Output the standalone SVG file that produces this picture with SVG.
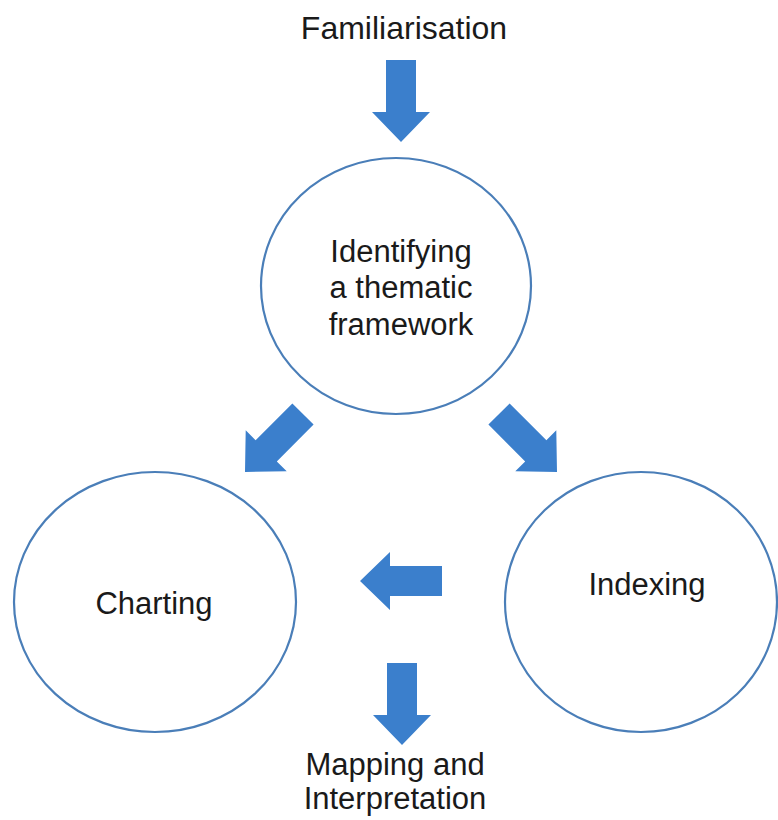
<svg xmlns="http://www.w3.org/2000/svg" xmlns:xlink="http://www.w3.org/1999/xlink" width="778" height="820" viewBox="0 0 778 820">
<style>
.node{fill:#ffffff;stroke:#4a7eb8;stroke-width:2.2}
.lbl{font-family:"Liberation Sans",Arial,sans-serif;fill:#1a1a1a;text-anchor:middle}
.arr{fill:#3b7fcc}
</style>
<defs>
<path id="blockArrow" d="M0,0 L-29,-30 L-15,-30 L-15,-82 L15,-82 L15,-30 L29,-30 Z"/>
</defs>
<rect width="778" height="820" fill="#ffffff"/>
<g id="connectors" class="arr">
<use xlink:href="#blockArrow" transform="translate(401,142)"/>
<use xlink:href="#blockArrow" transform="translate(245,472) rotate(45)"/>
<use xlink:href="#blockArrow" transform="translate(557,472) rotate(-45)"/>
<use xlink:href="#blockArrow" transform="translate(360,581) rotate(90)"/>
<use xlink:href="#blockArrow" transform="translate(402,745)"/>
</g>
<g id="familiarisation">
<text class="lbl" x="404" y="39" font-size="32">Familiarisation</text>
</g>
<g id="framework">
<ellipse class="node" cx="396" cy="286" rx="135" ry="128"/>
<text class="lbl" x="401" y="262" font-size="31">Identifying</text>
<text class="lbl" x="401" y="298" font-size="31">a thematic</text>
<text class="lbl" x="401" y="335" font-size="31">framework</text>
</g>
<g id="charting">
<ellipse class="node" cx="155" cy="602" rx="141" ry="130"/>
<text class="lbl" x="154" y="614" font-size="31">Charting</text>
</g>
<g id="indexing">
<ellipse class="node" cx="641" cy="602" rx="136" ry="130"/>
<text class="lbl" x="647" y="595" font-size="31">Indexing</text>
</g>
<g id="mapping">
<text class="lbl" x="395" y="775" font-size="31">Mapping and</text>
<text class="lbl" x="395" y="809" font-size="31">Interpretation</text>
</g>
</svg>
